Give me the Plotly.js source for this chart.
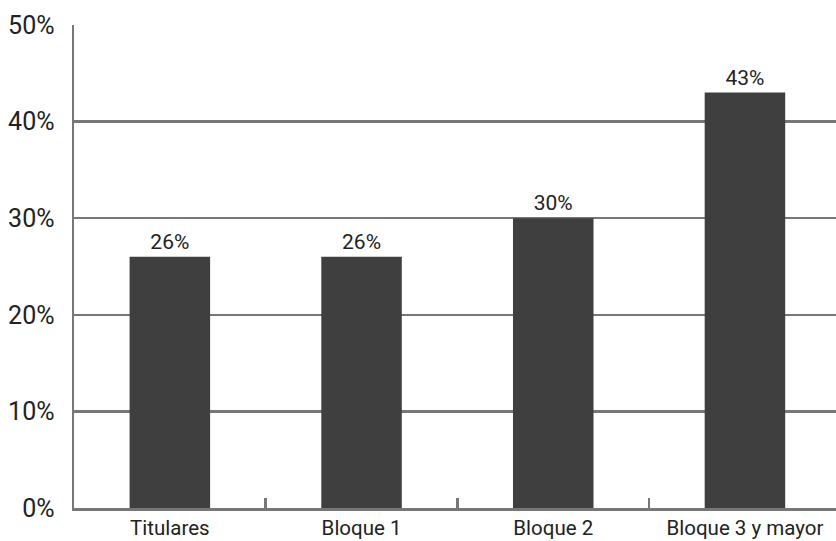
<!DOCTYPE html>
<html>
<head>
<meta charset="utf-8">
<script src="https://cdn.plot.ly/plotly-3.0.1.min.js"></script>
<style>html,body{margin:0;padding:0;background:#fff;}#chart{width:836px;height:541px;}</style>
</head>
<body>
<div id="chart"></div>
<script>
const categories = ["Titulares", "Bloque 1", "Bloque 2", "Bloque 3 y mayor"];
const values = [26, 26, 30, 43];
const labels = ["26%", "26%", "30%", "43%"];
const yTicks = [0, 10, 20, 30, 40, 50];
const yTickText = ["0%", "10%", "20%", "30%", "40%", "50%"];

const FONT = "Roboto, 'Liberation Sans', sans-serif";

Plotly.newPlot("chart", [{
  type: "bar",
  x: categories,
  y: values,
  text: labels,
  textposition: "outside",
  cliponaxis: false,
  textfont: {family: FONT, size: 21, color: "#222", weight: 400},
  marker: {color: "#3f3f3f", line: {width: 0}},
  width: 0.42,
  hoverinfo: "none"
}], {
  width: 836,
  height: 541,
  margin: {l: 74, r: 0, t: 25, b: 33},
  paper_bgcolor: "#fff",
  plot_bgcolor: "#fff",
  showlegend: false,
  font: {family: FONT, color: "#222"},
  xaxis: {
    type: "category",
    range: [-0.5, 3.475],
    showline: true,
    linecolor: "#777",
    linewidth: 2.5,
    showgrid: false,
    zeroline: false,
    ticks: "inside",
    tickson: "boundaries",
    ticklen: 10,
    tickwidth: 2.5,
    tickcolor: "#777",
    tickfont: {family: FONT, size: 20.5, color: "#222", weight: 400}
  },
  yaxis: {
    range: [0, 50],
    tickvals: yTicks,
    ticktext: yTickText,
    showline: true,
    linecolor: "#777",
    linewidth: 2.5,
    showgrid: true,
    gridcolor: "#777",
    gridwidth: 2.5,
    zeroline: false,
    ticks: "",
    ticklabelstandoff: 12,
    tickfont: {family: FONT, size: 25, color: "#222", weight: 400}
  }
}, {staticPlot: true});
</script>
</body>
</html>
